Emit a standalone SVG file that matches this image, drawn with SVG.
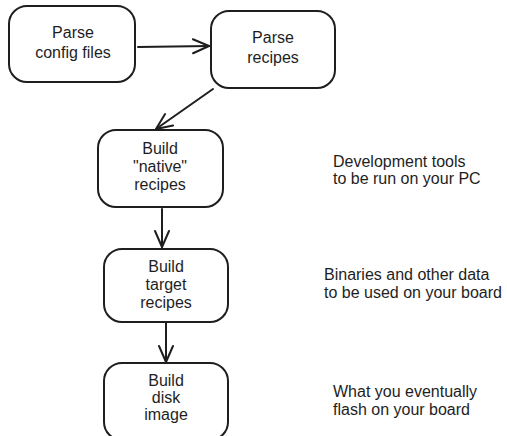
<svg xmlns="http://www.w3.org/2000/svg" width="507" height="436" viewBox="0 0 507 436">
  <style>
    .box { fill: #ffffff; stroke: #1e1e1e; stroke-width: 2; }
    .lbl { font-family: "Liberation Sans", "DejaVu Sans", sans-serif; font-size: 16px; fill: #1e1e1e; text-anchor: middle; }
    .note { font-family: "Liberation Sans", "DejaVu Sans", sans-serif; font-size: 16px; fill: #1e1e1e; }
    .conn { fill: none; stroke: #1e1e1e; stroke-width: 2; stroke-linecap: round; }
  </style>
  <defs>
    <marker id="arr" viewBox="0 0 20 20" refX="18" refY="10" markerWidth="20" markerHeight="20" markerUnits="userSpaceOnUse" orient="auto">
      <path d="M2 3 L18 10 L2 17" fill="none" stroke="#1e1e1e" stroke-width="2" stroke-linecap="round" stroke-linejoin="round"/>
    </marker>
  </defs>
  <rect width="507" height="436" fill="#ffffff"/>

  <g id="connectors">
    <path class="conn" d="M138 47 L209 46" marker-end="url(#arr)"/>
    <path class="conn" d="M213 89 L156 129" marker-end="url(#arr)"/>
    <path class="conn" d="M162 209 L162 247" marker-end="url(#arr)"/>
    <path class="conn" d="M166 323 L166 362" marker-end="url(#arr)"/>
  </g>

  <g id="parse-config">
    <rect class="box" x="9" y="6" width="126" height="76" rx="18"/>
    <text class="lbl" x="73" y="38">Parse</text>
    <text class="lbl" x="73" y="58">config files</text>
  </g>

  <g id="parse-recipes">
    <rect class="box" x="211" y="11" width="124" height="77" rx="18"/>
    <text class="lbl" x="273" y="43">Parse</text>
    <text class="lbl" x="273" y="63">recipes</text>
  </g>

  <g id="build-native">
    <rect class="box" x="98" y="130" width="125" height="77" rx="18"/>
    <text class="lbl" x="160" y="154">Build</text>
    <text class="lbl" x="160" y="172">"native"</text>
    <text class="lbl" x="160" y="190">recipes</text>
  </g>

  <g id="build-target">
    <rect class="box" x="104" y="249" width="124" height="73" rx="18"/>
    <text class="lbl" x="166" y="272">Build</text>
    <text class="lbl" x="166" y="290">target</text>
    <text class="lbl" x="166" y="308">recipes</text>
  </g>

  <g id="build-disk">
    <rect class="box" x="104" y="363" width="124" height="77" rx="18"/>
    <text class="lbl" x="166" y="386">Build</text>
    <text class="lbl" x="166" y="403">disk</text>
    <text class="lbl" x="166" y="420">image</text>
  </g>

  <g id="notes">
    <text class="note" x="333" y="167">Development tools</text>
    <text class="note" x="333" y="184">to be run on your PC</text>
    <text class="note" x="324" y="280">Binaries and other data</text>
    <text class="note" x="324" y="298">to be used on your board</text>
    <text class="note" x="333" y="397">What you eventually</text>
    <text class="note" x="333" y="415">flash on your board</text>
  </g>
</svg>
